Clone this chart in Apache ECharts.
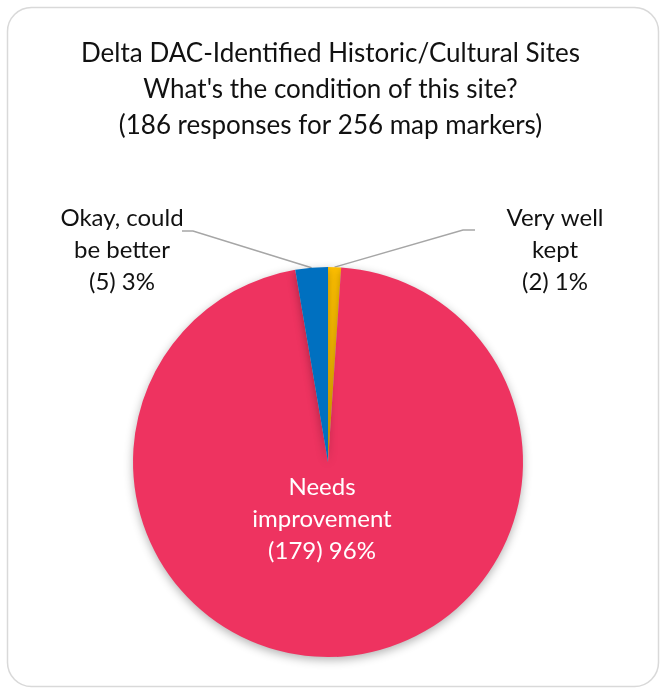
<!DOCTYPE html>
<html>
<head>
<meta charset="utf-8">
<script src="https://cdn.jsdelivr.net/npm/echarts@6/dist/echarts.min.js"></script>
<style>
  html, body { margin: 0; padding: 0; background: #ffffff; }
  #chart { width: 661px; height: 689px; }
</style>
</head>
<body>
<div id="chart"></div>
<script>
// Survey answers, clockwise from 12 o'clock
const categories = ['Very well\nkept', 'Needs\nimprovement', 'Okay, could\nbe better'];
const responses = [2, 179, 5];
const sliceColors = ['#FFC000', '#EE3360', '#0070C0'];
const titleLines = [
  'Delta DAC-Identified Historic/Cultural Sites',
  "What's the condition of this site?",
  '(186 responses for 256 map markers)'
];

const FONT = 'Lato, "Open Sans", sans-serif';
const chart = echarts.init(document.getElementById('chart'), null, { renderer: 'canvas' });

// where each label block sits, and the elbow/end of its leader line
const labelPlacement = [
  { x: 555, y: 250, line: [[463, 230], [475, 230]] },
  { x: 322, y: 519, line: null },
  { x: 122, y: 250, line: [[193, 231], [182, 231]] }
];

chart.setOption({
  backgroundColor: '#ffffff',
  animation: false,
  graphic: [{
    type: 'rect',
    silent: true,
    z: -10,
    shape: { x: 7.5, y: 7.5, width: 651, height: 679, r: 24 },
    style: { fill: '#ffffff', stroke: '#d9d9d9', lineWidth: 1.5 }
  }],
  title: {
    text: titleLines.join('\n'),
    left: 'center',
    top: 31,
    textStyle: {
      fontFamily: FONT,
      fontWeight: 'normal',
      fontSize: 26,
      lineHeight: 36,
      color: '#111111'
    }
  },
  series: [{
    type: 'pie',
    center: [328, 462],
    radius: 195,
    startAngle: 90,
    clockwise: true,
    percentPrecision: 0,
    data: categories.map((name, i) => ({
      name: name,
      value: responses[i],
      itemStyle: { color: sliceColors[i] },
      label: i === 1 ? { color: '#ffffff' } : {}
    })),
    itemStyle: {
      borderColor: '#ffffff',
      borderWidth: 0,
      shadowBlur: 10,
      shadowColor: 'rgba(0,0,0,0.3)',
      shadowOffsetX: 0,
      shadowOffsetY: 3
    },
    label: {
      show: true,
      position: 'outside',
      formatter: '{b}\n({c}) {d}%',
      fontFamily: FONT,
      fontSize: 24,
      lineHeight: 32,
      color: '#111111',
      align: 'center'
    },
    labelLine: {
      show: true,
      lineStyle: { color: '#a6a6a6', width: 1.5 }
    },
    labelLayout: function (params) {
      const p = labelPlacement[params.dataIndex];
      const out = { x: p.x, y: p.y, align: 'center', verticalAlign: 'middle' };
      if (p.line && params.labelLinePoints) {
        out.labelLinePoints = [params.labelLinePoints[0], p.line[0], p.line[1]];
      }
      return out;
    }
  }]
});
</script>
</body>
</html>
